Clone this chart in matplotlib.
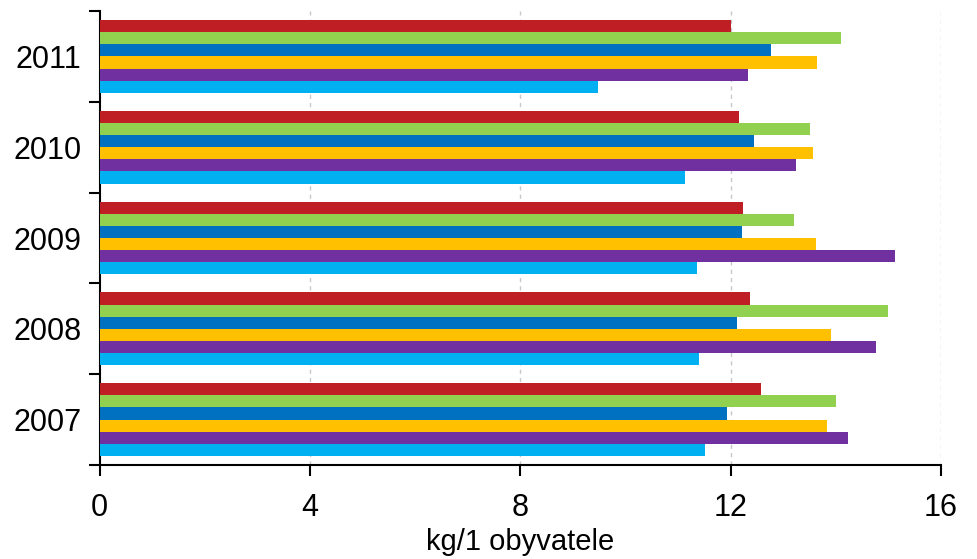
import matplotlib
matplotlib.use("Agg")
import matplotlib.pyplot as plt
import numpy as np

plt.rcParams['font.family'] = ['Liberation Sans', 'DejaVu Sans']

years = ["2007", "2008", "2009", "2010", "2011"]
# series listed from bottom bar to top bar within each year group
s_lightblue = [11.52, 11.39, 11.36, 11.13, 9.48]
s_purple    = [14.24, 14.77, 15.12, 13.25, 12.33]
s_orange    = [13.84, 13.91, 13.62, 13.57, 13.64]
s_darkblue  = [11.93, 12.13, 12.22, 12.44, 12.76]
s_green     = [14.01, 15.00, 13.20, 13.50, 14.10]
s_red       = [12.58, 12.36, 12.24, 12.16, 12.01]

series = [s_lightblue, s_purple, s_orange, s_darkblue, s_green, s_red]
colors = ["#00B0F0", "#7030A0", "#FFC000", "#0070C0", "#92D050", "#BE1E24"]

xticks = [0, 4, 8, 12, 16]
xlabel = "kg/1 obyvatele"

fig = plt.figure(figsize=(9.77, 5.59), dpi=100)
ax = fig.add_axes([99.5/977, 1-465/559, (941-99.5)/977, (465-11)/559])

n = len(series)
group = 0.8
h = group / n
ypos = np.arange(len(years))
for i, (vals, c) in enumerate(zip(series, colors)):
    off = -group/2 + h*(i+0.5)
    ax.barh(ypos + off, vals, height=h, color=c, edgecolor='none', zorder=3)

ax.set_xlim(0, 16)
ax.set_ylim(-0.5, len(years)-0.5)
ax.set_xticks(xticks)
ax.set_xticklabels([str(t) for t in xticks], fontsize=22)
ax.tick_params(axis='x', direction='out', length=8, width=1.5, pad=12)

ax.set_yticks(np.arange(len(years)+1) - 0.5)
ax.set_yticklabels([])
ax.set_yticks(ypos, minor=True)
ax.set_yticklabels(years, minor=True, fontsize=22)
ax.tick_params(axis='y', which='major', direction='out', length=8, width=1.5)
ax.tick_params(axis='y', which='minor', length=0, pad=13)

for x in xticks[1:]:
    ax.axvline(x, color='#C8C8C8', linestyle=(0, (3, 3)), linewidth=1, zorder=1)

for s in ['top', 'right']:
    ax.spines[s].set_visible(False)
for s in ['left', 'bottom']:
    ax.spines[s].set_linewidth(1.5)

ax.set_xlabel(xlabel, fontsize=21, labelpad=4)

fig.savefig("out.png", dpi=100)
